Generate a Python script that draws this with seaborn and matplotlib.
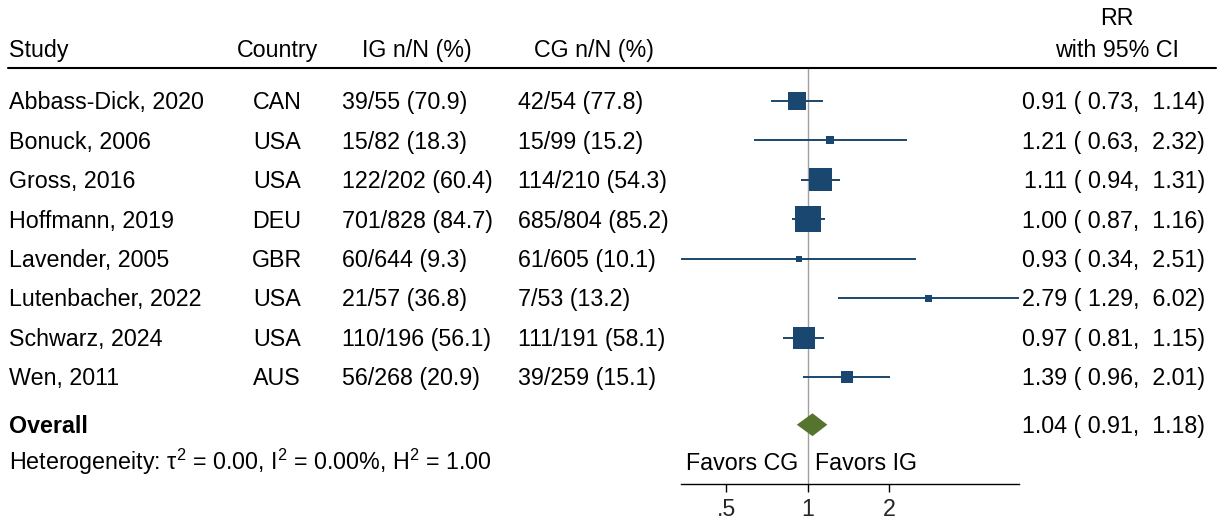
import numpy as np
import pandas as pd
import matplotlib
matplotlib.use("Agg")
import matplotlib.pyplot as plt
import matplotlib.transforms as mtransforms
from matplotlib.lines import Line2D
from matplotlib.ticker import NullLocator, FixedLocator, FixedFormatter
import seaborn as sns

# ---- data ----
studies = ["Abbass-Dick, 2020", "Bonuck, 2006", "Gross, 2016", "Hoffmann, 2019",
           "Lavender, 2005", "Lutenbacher, 2022", "Schwarz, 2024", "Wen, 2011"]
countries = ["CAN", "USA", "USA", "DEU", "GBR", "USA", "USA", "AUS"]
ig_counts = ["39/55 (70.9)", "15/82 (18.3)", "122/202 (60.4)", "701/828 (84.7)",
             "60/644 (9.3)", "21/57 (36.8)", "110/196 (56.1)", "56/268 (20.9)"]
cg_counts = ["42/54 (77.8)", "15/99 (15.2)", "114/210 (54.3)", "685/804 (85.2)",
             "61/605 (10.1)", "7/53 (13.2)", "111/191 (58.1)", "39/259 (15.1)"]
rr = [0.91, 1.21, 1.11, 1.00, 0.93, 2.79, 0.97, 1.39]
ci_low = [0.73, 0.63, 0.94, 0.87, 0.34, 1.29, 0.81, 0.96]
ci_high = [1.14, 2.32, 1.31, 1.16, 2.51, 6.02, 1.15, 2.01]
weight_pct = [14.05, 2.78, 22.94, 29.31, 1.56, 2.12, 20.99, 6.24]

overall_rr, overall_low, overall_high = 1.04, 0.91, 1.18
heterogeneity = r"Heterogeneity: τ$^{2}$ = 0.00, I$^{2}$ = 0.00%, H$^{2}$ = 1.00"
x_ticks = [0.5, 1, 2]
x_tick_labels = [".5", "1", "2"]

# ---- style ----
sns.set_style("white")
plt.rcParams["font.family"] = ["Liberation Sans", "DejaVu Sans"]
plt.rcParams["mathtext.fontset"] = "custom"
plt.rcParams["mathtext.rm"] = "Liberation Sans"
plt.rcParams["mathtext.it"] = "Liberation Sans"
plt.rcParams["mathtext.default"] = "rm"
FS = 16.75
BLUE = "#1a476f"
GREEN = "#55752f"
GRAY = "#a0a0a0"

W, H = 1225, 527
fig = plt.figure(figsize=(W / 100, H / 100), dpi=100)

# Forest panel geometry (pixels) and row layout
row0_px, row_step = 101.0, 39.43
top_px, axis_px = 68.0, 484.3
left_px, right_px = 681.0, 1019.0
ax = fig.add_axes([left_px / W, 1 - axis_px / H,
                   (right_px - left_px) / W, (axis_px - top_px) / H])
y_top = -(row0_px - top_px) / row_step
y_bot = (axis_px - row0_px) / row_step

rows = np.arange(len(studies), dtype=float)
overall_row = 8.21
note_row = 9.14
header_row = -1.33
rr_row = -2.15

df = pd.DataFrame({"rr": rr, "row": rows, "weight": weight_pct})

# Confidence intervals and weighted squares
ax.hlines(rows, ci_low, ci_high, color=BLUE, lw=1.4, zorder=2)
sns.scatterplot(data=df, x="rr", y="row", size="weight",
                sizes=(0, 350), size_norm=(0, max(weight_pct)),
                marker="s", color=BLUE, linewidth=0, legend=False,
                ax=ax, zorder=3)

# Overall diamond
h = 0.29
ax.fill([overall_low, overall_rr, overall_high, overall_rr],
        [overall_row, overall_row - h, overall_row, overall_row + h],
        color=GREEN, lw=0, zorder=3)

ax.axvline(1, color=GRAY, lw=1.0, zorder=1)

ax.set_xscale("log")
ax.set_xlim(min(ci_low), max(ci_high))
ax.set_ylim(y_bot, y_top)
ax.xaxis.set_major_locator(FixedLocator(x_ticks))
ax.xaxis.set_major_formatter(FixedFormatter(x_tick_labels))
ax.xaxis.set_minor_locator(NullLocator())
ax.set_yticks([])
ax.set_xlabel("")
ax.set_ylabel("")
for s in ["top", "left", "right"]:
    ax.spines[s].set_visible(False)
ax.spines["bottom"].set_color("black")
ax.spines["bottom"].set_linewidth(1.0)
ax.tick_params(axis="x", direction="out", length=6, width=1.0,
               color="black", labelsize=FS, pad=4, bottom=True)
ax.patch.set_alpha(0)

# Text table: x in pixels, y in row units
trans = mtransforms.blended_transform_factory(fig.transFigure, ax.transData)
base = 8.3 / row_step  # centre-to-baseline offset


def put(xpx, row, s, ha="left", **kw):
    ax.text(xpx / W, row + base, s, transform=trans, ha=ha, va="baseline",
            fontsize=FS, color="black", clip_on=False, **kw)


put(9, header_row, "Study")
put(277, header_row, "Country", ha="center")
put(417, header_row, "IG n/N (%)", ha="center")
put(594, header_row, "CG n/N (%)", ha="center")
put(1117, rr_row, "RR", ha="center")
put(1117, header_row, "with 95% CI", ha="center")

for i in range(len(studies)):
    r = rows[i]
    put(9, r, studies[i])
    put(277, r, countries[i], ha="center")
    put(342, r, ig_counts[i])
    put(518, r, cg_counts[i])
    put(1205, r, f"{rr[i]:.2f} ({ci_low[i]:5.2f}, {ci_high[i]:5.2f})", ha="right")

put(9, overall_row, "Overall", fontweight="bold")
put(1205, overall_row,
    f"{overall_rr:.2f} ({overall_low:5.2f}, {overall_high:5.2f})", ha="right")
put(9, note_row, heterogeneity)
put(798, note_row, "Favors CG", ha="right")
put(815, note_row, "Favors IG")

# Header rule
fig.add_artist(Line2D([8 / W, 1216 / W], [1 - top_px / H, 1 - top_px / H],
                      transform=fig.transFigure, color="black", lw=1.5))

fig.savefig("out.png", dpi=100)
